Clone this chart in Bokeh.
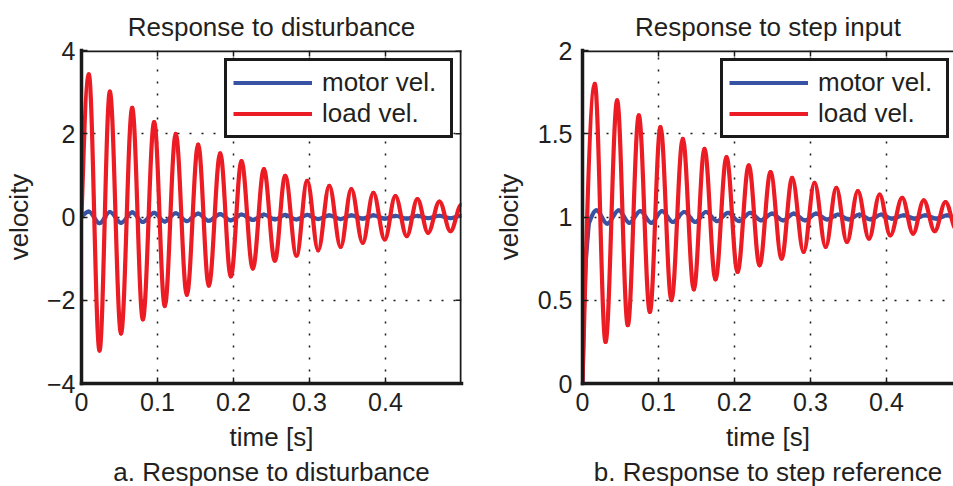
import numpy as np
from bokeh.plotting import figure
from bokeh.models import (Range1d, LinearAxis, FixedTicker, Title, Legend, LegendItem,
                          Grid, ColumnDataSource, Span)
from bokeh.layouts import row
from bokeh.embed import file_html
from bokeh.resources import INLINE

# ---------------- data (key points: start, peaks/troughs, end) -------------
x_ticks = [0.0, 0.1, 0.2, 0.3, 0.4]
dist_y_ticks = [-4, -2, 0, 2, 4]
step_y_ticks = [0, 0.5, 1, 1.5, 2]

dist_t = [0.0, 0.0096, 0.0237, 0.0373, 0.052, 0.0667, 0.0807, 0.0956, 0.1096, 0.124, 0.1386,
          0.1535, 0.1675, 0.1825, 0.1965, 0.2105, 0.2254, 0.240, 0.2544, 0.268, 0.2829, 0.297,
          0.3114, 0.326, 0.341, 0.355, 0.370, 0.384, 0.399, 0.413, 0.428, 0.442, 0.456, 0.471,
          0.4855, 0.5]
dist_load_v = [0.0, 3.43, -3.21, 3.01, -2.80, 2.62, -2.46, 2.28, -2.14, 2.00, -1.87, 1.74, -1.65,
               1.53, -1.43, 1.34, -1.24, 1.15, -1.05, 0.99, -0.93, 0.87, -0.80, 0.75, -0.72, 0.67,
               -0.62, 0.58, -0.54, 0.50, -0.46, 0.43, -0.38, 0.37, -0.34, 0.30]
dist_motor_v = [0.0, 0.13, -0.15, 0.12, -0.14, 0.11, -0.12, 0.10, -0.11, 0.09, -0.10, 0.08, -0.09,
                0.07, -0.08, 0.06, -0.07, 0.06, -0.06, 0.05, -0.06, 0.05, -0.05, 0.04, -0.05, 0.04,
                -0.04, 0.04, -0.04, 0.03, -0.04, 0.03, -0.03, 0.03, -0.03, 0.03]

step_load_t = [0.0, 0.0162, 0.0303, 0.0456, 0.0596, 0.0741, 0.0886, 0.1026, 0.117, 0.132, 0.1465,
               0.1605, 0.175, 0.1895, 0.204, 0.2188, 0.233, 0.2474, 0.262, 0.2759, 0.291, 0.3053,
               0.320, 0.334, 0.348, 0.3623, 0.377, 0.391, 0.405, 0.4207, 0.435, 0.449, 0.4635,
               0.4776, 0.492]
step_load_v = [0.0, 1.80, 0.25, 1.70, 0.35, 1.61, 0.43, 1.54, 0.50, 1.47, 0.565, 1.41, 0.625, 1.36,
               0.67, 1.31, 0.71, 1.27, 0.75, 1.235, 0.79, 1.205, 0.82, 1.175, 0.85, 1.155, 0.87,
               1.135, 0.89, 1.115, 0.90, 1.10, 0.915, 1.09, 0.925]

step_motor_rise_t = [0.0, 0.0018, 0.004, 0.0083]
step_motor_rise_v = [0.0, 0.43, 0.72, 0.96]
step_motor_t = [0.0083, 0.0184, 0.0325, 0.0476, 0.0616, 0.0761, 0.0906, 0.1046, 0.119, 0.134,
                0.1485, 0.1625, 0.177, 0.1915, 0.206, 0.2208, 0.235, 0.2494, 0.264, 0.2779, 0.293,
                0.3073, 0.322, 0.336, 0.350, 0.3643, 0.379, 0.393, 0.407, 0.4227, 0.437, 0.451,
                0.4655, 0.4796, 0.494]
step_motor_v = [0.96, 1.04, 0.96, 1.04, 0.965, 1.035, 0.965, 1.035, 0.97, 1.03, 0.97, 1.03, 0.975,
                1.025, 0.975, 1.025, 0.98, 1.02, 0.98, 1.02, 0.98, 1.02, 0.985, 1.015, 0.985,
                1.015, 0.985, 1.015, 0.99, 1.01, 0.99, 1.01, 0.99, 1.01, 0.99]

# ---------------- styling ----------------
FONT = "Liberation Sans"
TXT = "#231f20"
EDGE = "#1a1a1a"
RED = "#ec1c24"
BLUE = "#3953a4"
LW = 4.2
EDGE_W = 3.5
TICK_PX = 6
K = 0.3634  # bezier handle fraction for smooth half-waves between extrema
FRAME_H = 336


def bez_source(t, v, rising_start=False):
    t = np.asarray(t, float)
    v = np.asarray(v, float)
    x0, y0, x1, y1 = t[:-1], v[:-1], t[1:], v[1:]
    dt = x1 - x0
    cx0 = x0 + K * dt
    cy0 = y0.copy()
    cx1 = x1 - K * dt
    cy1 = y1.copy()
    if rising_start:
        cx0[0] = x0[0] + 0.3 * dt[0]
        cy0[0] = y0[0] + 0.47 * (y1[0] - y0[0])
    return ColumnDataSource(dict(x0=x0, y0=y0, x1=x1, y1=y1, cx0=cx0, cy0=cy0, cx1=cx1, cy1=cy1))


def style_axis(ax):
    ax.axis_line_width = EDGE_W
    ax.axis_line_color = EDGE
    ax.axis_line_cap = "square"
    ax.major_tick_in = TICK_PX
    ax.major_tick_out = 0
    ax.major_tick_line_width = 1.5
    ax.major_tick_line_color = EDGE
    ax.minor_tick_line_color = None
    ax.major_label_text_font = FONT
    ax.major_label_text_font_size = "25px"
    ax.major_label_text_color = TXT
    ax.axis_label_text_font = FONT
    ax.axis_label_text_font_size = "26px"
    ax.axis_label_text_font_style = "normal"
    ax.axis_label_text_color = TXT


def make_fig(width, min_left, min_right, x_end, frame_w, y_rng, y_ticks, overrides, title,
             caption, right_edge, title_offset, ylab_standoff, ytick_standoff):
    p = figure(width=width, height=486, x_range=Range1d(0, x_end), y_range=Range1d(*y_rng),
               x_axis_type=None, y_axis_type=None, output_backend="svg", toolbar_location=None,
               min_border_left=min_left, min_border_right=min_right, min_border_top=49,
               min_border_bottom=101)
    p.outline_line_color = None
    p.background_fill_color = "white"
    p.border_fill_color = "white"

    xt = FixedTicker(ticks=x_ticks)
    yt = FixedTicker(ticks=y_ticks)

    xb = LinearAxis(ticker=xt, axis_label="time [s]")
    style_axis(xb)
    xb.major_label_standoff = 9
    xb.axis_label_standoff = 8
    p.add_layout(xb, "below")

    yl = LinearAxis(ticker=yt, axis_label="velocity", major_label_overrides=overrides)
    style_axis(yl)
    yl.major_label_standoff = ytick_standoff
    yl.axis_label_standoff = ylab_standoff
    p.add_layout(yl, "left")

    # top (and right) frame edges with inward ticks
    y0, y1 = y_rng
    p.add_layout(Span(location=y1, dimension="width", line_color=EDGE, line_width=EDGE_W,
                      line_cap="square"))
    dy = TICK_PX * (y1 - y0) / FRAME_H
    p.segment(x0=x_ticks, y0=[y1] * len(x_ticks), x1=x_ticks, y1=[y1 - dy] * len(x_ticks),
              line_color=EDGE, line_width=1.5)
    if right_edge:
        p.add_layout(Span(location=x_end, dimension="height", line_color=EDGE,
                          line_width=EDGE_W, line_cap="square"))
        dx = TICK_PX * x_end / frame_w
        p.segment(x0=[x_end] * len(y_ticks), y0=y_ticks, x1=[x_end - dx] * len(y_ticks),
                  y1=y_ticks, line_color=EDGE, line_width=1.5)

    for dim, tk in ((0, xt), (1, yt)):
        p.add_layout(Grid(dimension=dim, ticker=tk, grid_line_color=EDGE,
                          grid_line_width=1.5, grid_line_dash="2 10"))

    p.title.text = title
    p.title.align = "center"
    p.title.text_font = FONT
    p.title.text_font_size = "26px"
    p.title.text_font_style = "normal"
    p.title.text_color = TXT
    p.title.offset = title_offset
    p.title.standoff = 18

    p.add_layout(Title(text=caption, align="center", text_font=FONT, text_font_size="26px",
                       text_font_style="normal", text_color=TXT, offset=title_offset,
                       standoff=0), "below")
    return p


# ---------------- left: response to disturbance ----------------
p1 = make_fig(490, 81, 29, 0.5, 380, (-4, 4), dist_y_ticks, {-4: "\u22124", -2: "\u22122"},
              "Response to disturbance", "a. Response to disturbance", True, 0, 10, 6)
p1.bezier(source=bez_source(dist_t, dist_motor_v, rising_start=True), x0="x0", y0="y0", x1="x1",
          y1="y1", cx0="cx0", cy0="cy0", cx1="cx1", cy1="cy1", line_color=BLUE, line_width=LW,
          line_cap="round")
p1.bezier(source=bez_source(dist_t, dist_load_v, rising_start=True), x0="x0", y0="y0", x1="x1",
          y1="y1", cx0="cx0", cy0="cy0", cx1="cx1", cy1="cy1", line_color=RED, line_width=LW,
          line_cap="round")
leg1_b = p1.line(x=dist_t[:1], y=dist_motor_v[:1], line_color=BLUE, line_width=LW)
leg1_r = p1.line(x=dist_t[:1], y=dist_load_v[:1], line_color=RED, line_width=LW)

# ---------------- right: response to step input ----------------
p2 = make_fig(463, 92, 0, 0.4882, 371, (0, 2), step_y_ticks, {},
              "Response to step input", "b. Response to step reference", False, 4, 11, 10)
p2.line(step_motor_rise_t, step_motor_rise_v, line_color=BLUE, line_width=LW, line_cap="round",
        line_join="round")
p2.bezier(source=bez_source(step_motor_t, step_motor_v, rising_start=True), x0="x0", y0="y0",
          x1="x1", y1="y1", cx0="cx0", cy0="cy0", cx1="cx1", cy1="cy1", line_color=BLUE,
          line_width=LW, line_cap="round")
p2.bezier(source=bez_source(step_load_t, step_load_v, rising_start=True), x0="x0", y0="y0",
          x1="x1", y1="y1", cx0="cx0", cy0="cy0", cx1="cx1", cy1="cy1", line_color=RED,
          line_width=LW, line_cap="round")
leg2_b = p2.line(x=step_motor_rise_t[:1], y=step_motor_rise_v[:1], line_color=BLUE, line_width=LW)
leg2_r = p2.line(x=step_load_t[:1], y=step_load_v[:1], line_color=RED, line_width=LW)

# ---------------- legends ----------------
for p, loc, rb, rr in ((p1, (143, 245), leg1_b, leg1_r), (p2, (138, 245), leg2_b, leg2_r)):
    leg = Legend(items=[LegendItem(label="motor vel.", renderers=[rb]),
                        LegendItem(label="load vel.", renderers=[rr])],
                 location=loc, label_text_font=FONT, label_text_font_size="26px",
                 label_text_color=TXT, glyph_width=79, glyph_height=29, label_height=29,
                 label_width=122, label_standoff=10, padding=6, spacing=0, margin=0,
                 border_line_color=EDGE, border_line_width=3.5, border_line_alpha=1.0,
                 background_fill_color="white", background_fill_alpha=1.0)
    p.add_layout(leg)

layout = row(p1, p2, spacing=0)
open("out.html", "w").write(file_html(layout, INLINE))
